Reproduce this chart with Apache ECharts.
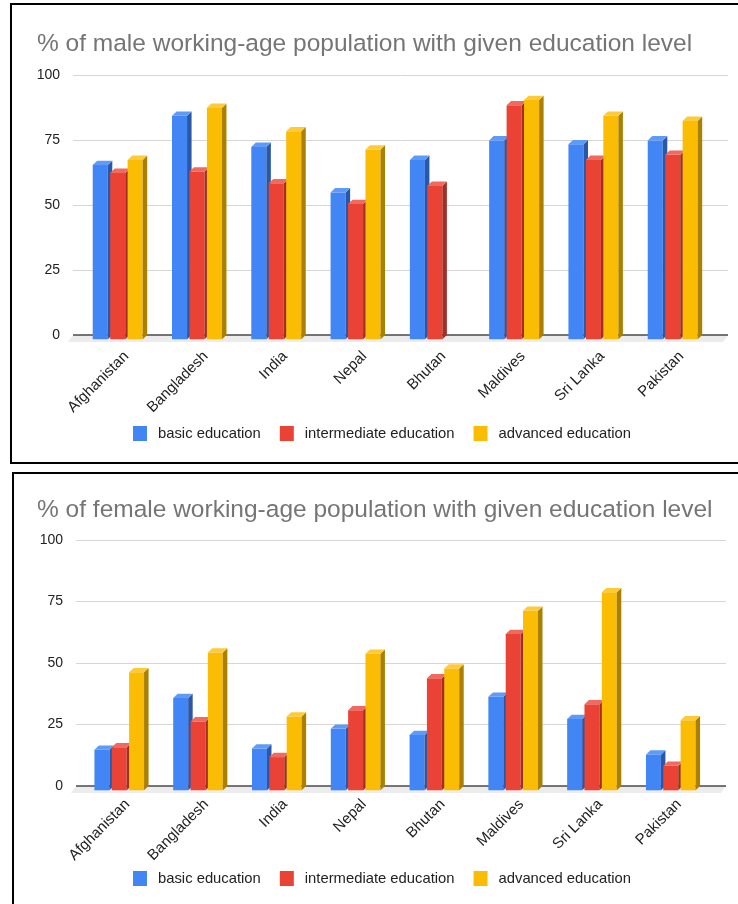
<!DOCTYPE html>
<html>
<head>
<meta charset="utf-8">
<title>Working-age population by education level</title>
<script src="https://cdn.jsdelivr.net/npm/echarts@6/dist/echarts.min.js"></script>
<style>
  html, body { margin: 0; padding: 0; background: #fff; }
  #chart { width: 738px; height: 904px; }
</style>
</head>
<body>
<div id="chart"></div>
<script>
// Countries on the category axis
const categories = ['Afghanistan', 'Bangladesh', 'India', 'Nepal', 'Bhutan', 'Maldives', 'Sri Lanka', 'Pakistan'];
const seriesNames = ['basic education', 'intermediate education', 'advanced education'];

// Share (%) of the male working-age population per education level
const maleBasic = [67, 86, 74, 56.5, 69, 76.5, 75, 76.5];
const maleIntermediate = [64, 64.5, 60, 52, 59, 90, 69, 71];
const maleAdvanced = [69, 89, 80, 73, null, 92, 86, 84];

// Share (%) of the female working-age population per education level
const femaleBasic = [16.5, 37.5, 17, 25, 22.5, 38, 29, 14.5];
const femaleIntermediate = [17.5, 28, 13.5, 32.5, 45.5, 63.5, 35, 10];
const femaleAdvanced = [48, 56, 30, 55.5, 49.5, 73, 80.5, 28.5];

// Value axis ticks
const yMin = 0, yMax = 100, yStep = 25;

const FONT = "'Liberation Sans', Arial, sans-serif";

// Front / side / top face colours for the extruded bars
const faces = [
  { front: '#4285F4', side: '#2B58A6', top: '#5E9BF8' },
  { front: '#EA4335', side: '#A12E27', top: '#F06A5F' },
  { front: '#FBBC04', side: '#AB7F00', top: '#FDCA3A' }
];

const DEPTH_X = 4.5, DEPTH_Y = 4.3;

// Draws one bar of a three-bar group as a small 3D box
function barRenderer(k) {
  return function (params, api) {
    const v = api.value(1);
    if (v == null || isNaN(v)) return;
    const idx = api.value(0);
    const topPt = api.coord([idx, v]);
    const basePt = api.coord([idx, 0]);
    const band = api.size([1, 0])[0];
    const pitch = band * 0.22;
    const w = band * 0.19;
    const groupFront = 2 * pitch + w;
    const fl = topPt[0] - DEPTH_X / 2 - groupFront / 2 + k * pitch;
    const yt = topPt[1] + DEPTH_Y;
    const yb = basePt[1] + DEPTH_Y;
    const c = faces[k];
    return {
      type: 'group',
      children: [
        { type: 'rect', shape: { x: fl, y: yt, width: w, height: yb - yt }, style: { fill: c.front } },
        { type: 'polygon', shape: { points: [[fl + w, yt], [fl + w + DEPTH_X, yt - DEPTH_Y], [fl + w + DEPTH_X, yb - DEPTH_Y], [fl + w, yb]] }, style: { fill: c.side } },
        { type: 'polygon', shape: { points: [[fl, yt], [fl + DEPTH_X, yt - DEPTH_Y], [fl + w + DEPTH_X, yt - DEPTH_Y], [fl + w, yt]] }, style: { fill: c.top } }
      ]
    };
  };
}

// Grey floor strip under the zero line
function floorRenderer(params, api) {
  const L = api.coord([0, 0]);
  const R = api.coord([1, 0]);
  return {
    type: 'group',
    children: [
      { type: 'polygon', shape: { points: [[L[0], L[1]], [R[0], R[1]], [R[0] - 5, R[1] + 7], [L[0] - 5, L[1] + 7]] }, style: { fill: '#ececec' } },
      { type: 'line', shape: { x1: L[0], y1: L[1], x2: R[0], y2: R[1] }, style: { stroke: '#4a4a4a', lineWidth: 1.5 } }
    ]
  };
}

function wideY() {
  return {
    type: 'value', min: yMin, max: yMax, interval: yStep,
    axisLine: { show: false }, axisTick: { show: false },
    axisLabel: { fontSize: 14, color: '#222', fontFamily: FONT, margin: 13 },
    splitLine: { lineStyle: { color: '#d6d6d6', width: 1 } }
  };
}
function hiddenY() {
  return { type: 'value', min: yMin, max: yMax, interval: yStep, show: false, splitLine: { show: false } };
}
function wideX() {
  return { type: 'value', min: 0, max: 1, show: false, splitLine: { show: false } };
}
function barX() {
  return { type: 'category', data: categories, show: false };
}
function labelX(margin) {
  return {
    type: 'category', data: categories,
    axisLine: { show: false }, axisTick: { show: false }, splitLine: { show: false },
    axisLabel: { interval: 0, rotate: 45, fontSize: 15, color: '#222', fontFamily: FONT, margin: margin }
  };
}

function barSeries(values, k, axisIdx) {
  return {
    name: seriesNames[k],
    type: 'custom',
    xAxisIndex: axisIdx, yAxisIndex: axisIdx,
    itemStyle: { color: faces[k].front },
    encode: { x: 0, y: 1 },
    renderItem: barRenderer(k),
    z: 3,
    data: values.map((v, i) => [i, v == null ? '-' : v])
  };
}
function floorSeries(axisIdx) {
  return {
    type: 'custom', xAxisIndex: axisIdx, yAxisIndex: axisIdx,
    renderItem: floorRenderer, z: 1, silent: true,
    data: [[0, 0]]
  };
}

function legend(top) {
  return {
    data: seriesNames, top: top, left: 133, padding: 0,
    icon: 'rect', itemWidth: 14, itemHeight: 15, itemGap: 19,
    textStyle: { fontSize: 14.8, color: '#222', fontFamily: FONT, padding: [0, 0, 0, 6] }
  };
}

function title(text, top) {
  return {
    text: text, left: 37, top: top, padding: 0,
    textStyle: { fontSize: 24.5, fontWeight: 'normal', color: '#757575', fontFamily: FONT }
  };
}

const chart = echarts.init(document.getElementById('chart'));
chart.setOption({
  animation: false,
  backgroundColor: '#fff',
  title: [
    title('% of male working-age population with given education level', 32),
    title('% of female working-age population with given education level', 498)
  ],
  legend: [legend(426), legend(871)],
  grid: [
    { left: 73, top: 75, width: 655, height: 260 },
    { left: 80.3, top: 75, width: 634.3, height: 260 },
    { left: 76, top: 540, width: 650, height: 246 },
    { left: 82.1, top: 540, width: 630.3, height: 246 },
    { left: 86.8, top: 75, width: 634.3, height: 260 },
    { left: 88.1, top: 540, width: 630.3, height: 246 }
  ],
  xAxis: [
    Object.assign(wideX(), { gridIndex: 0 }),
    Object.assign(barX(), { gridIndex: 1 }),
    Object.assign(wideX(), { gridIndex: 2 }),
    Object.assign(barX(), { gridIndex: 3 }),
    Object.assign(labelX(19), { gridIndex: 4 }),
    Object.assign(labelX(16), { gridIndex: 5 })
  ],
  yAxis: [
    Object.assign(wideY(), { gridIndex: 0 }),
    Object.assign(hiddenY(), { gridIndex: 1 }),
    Object.assign(wideY(), { gridIndex: 2 }),
    Object.assign(hiddenY(), { gridIndex: 3 }),
    Object.assign(hiddenY(), { gridIndex: 4 }),
    Object.assign(hiddenY(), { gridIndex: 5 })
  ],
  graphic: [
    { type: 'rect', shape: { x: 11, y: 4, width: 760, height: 459 }, style: { fill: 'none', stroke: '#000', lineWidth: 2 }, z: 100 },
    { type: 'rect', shape: { x: 13, y: 473, width: 760, height: 500 }, style: { fill: 'none', stroke: '#000', lineWidth: 2 }, z: 100 }
  ],
  series: [
    floorSeries(0),
    barSeries(maleBasic, 0, 1),
    barSeries(maleIntermediate, 1, 1),
    barSeries(maleAdvanced, 2, 1),
    floorSeries(2),
    barSeries(femaleBasic, 0, 3),
    barSeries(femaleIntermediate, 1, 3),
    barSeries(femaleAdvanced, 2, 3)
  ]
});
</script>
</body>
</html>
